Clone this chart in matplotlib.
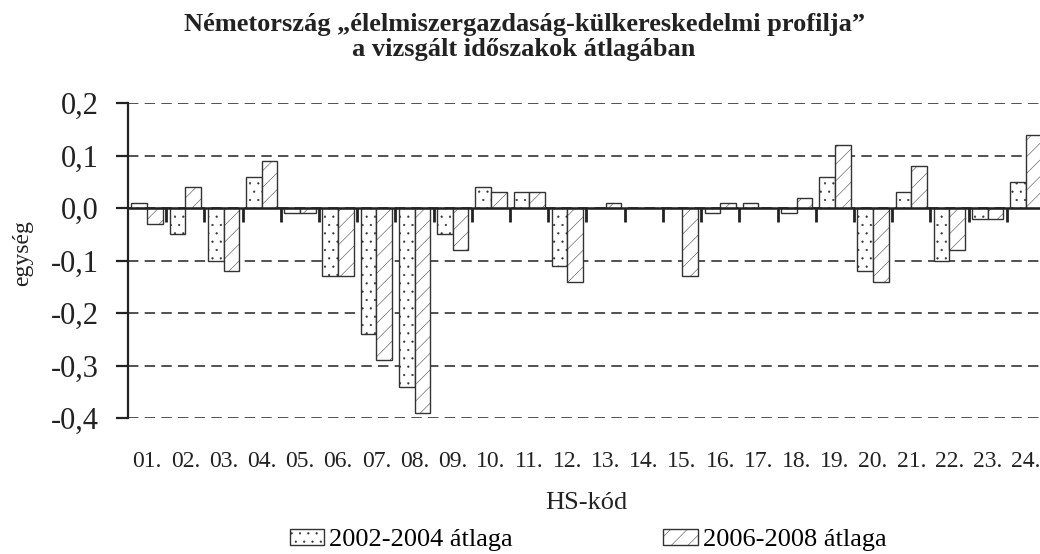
import numpy as np
import matplotlib
matplotlib.use("Agg")
import matplotlib.pyplot as plt
from matplotlib.ticker import FuncFormatter

plt.rcParams['font.family'] = ['Liberation Serif', 'DejaVu Serif']
plt.rcParams['hatch.color'] = '#333333'
plt.rcParams['hatch.linewidth'] = 0.35
plt.rcParams['lines.scale_dashes'] = False

# HS codes and the two period averages
codes = ['01.', '02.', '03.', '04.', '05.', '06.', '07.', '08.', '09.', '10.', '11.', '12.',
         '13.', '14.', '15.', '16.', '17.', '18.', '19.', '20.', '21.', '22.', '23.', '24.']
avg_2002_2004 = [0.01, -0.05, -0.10, 0.06, -0.01, -0.13, -0.24, -0.34, -0.05, 0.04, 0.03, -0.11,
                 0.00, 0.00, 0.00, -0.01, 0.01, -0.01, 0.06, -0.12, 0.03, -0.10, -0.02, 0.05]
avg_2006_2008 = [-0.03, 0.04, -0.12, 0.09, -0.01, -0.13, -0.29, -0.39, -0.08, 0.03, 0.03, -0.14,
                 0.01, 0.00, -0.13, 0.01, 0.00, 0.02, 0.12, -0.14, 0.08, -0.08, -0.02, 0.14]
series_labels = ['2002-2004 átlaga', '2006-2008 átlaga']
y_ticks = [-0.4, -0.3, -0.2, -0.1, 0.0, 0.1, 0.2]

dark = '#222222'
edge = '#333333'

fig = plt.figure(figsize=(10.4, 5.54), dpi=100)
ax = fig.add_axes([128 / 1040, (554 - 418) / 554, 917 / 1040, (418 - 103) / 554])

x = np.arange(len(codes))
w = 0.41
b1 = ax.bar(x - w / 2, avg_2002_2004, w, facecolor='white', edgecolor=edge,
            linewidth=1.0, hatch='..', label=series_labels[0], zorder=2)
b2 = ax.bar(x + w / 2, avg_2006_2008, w, facecolor='white', edgecolor=edge,
            linewidth=1.0, hatch='//', label=series_labels[1], zorder=2)

ax.set_xlim(-0.5, len(codes) - 0.5)
ax.set_ylim(-0.4, 0.2)
ax.set_yticks(y_ticks)
ax.yaxis.set_major_formatter(FuncFormatter(lambda v, p: f"{v:.1f}".replace('.', ',').replace('-0,0', '0,0')))
ax.yaxis.grid(True, linestyle=(0, (7.5, 4.5)), color=dark, linewidth=1.1)
ax.set_axisbelow(True)

ax.set_xticks(x)
ax.set_xticklabels(codes)
ax.tick_params(axis='x', length=0, pad=24, labelsize=17, colors=dark)
ax.tick_params(axis='y', direction='out', length=9, width=1.6, labelsize=22, colors=dark, pad=12)

for s in ['top', 'right', 'bottom']:
    ax.spines[s].set_visible(False)
ax.spines['left'].set_linewidth(1.6)
ax.spines['left'].set_color(dark)

# zero line and category separator ticks hanging below it
ax.axhline(0, color=dark, linewidth=1.8, zorder=3)
ax.vlines(x[:-1] + 0.5, -0.026, 0, color=dark, linewidth=2.0, zorder=3)

ax.set_ylabel('egység', fontsize=17, color=dark)
ax.yaxis.set_label_coords(-0.104, 0.524)
ax.set_xlabel('HS-kód', fontsize=19, color=dark, labelpad=14)

fig.text(524 / 1040, 1 - 13 / 554,
         'Németország „élelmiszergazdaság-külkereskedelmi profilja”\na vizsgált időszakok átlagában',
         ha='center', va='top', fontsize=19, fontweight='bold', color=dark, linespacing=1.1)

fig.legend(handles=[b1, b2], labels=series_labels, loc='center',
           bbox_to_anchor=(588 / 1040, 1 - 540 / 554), ncol=2, frameon=False,
           fontsize=19, handlelength=1.3, handleheight=0.57, handletextpad=0.2,
           columnspacing=5.7)

fig.savefig('out.png', dpi=100)
